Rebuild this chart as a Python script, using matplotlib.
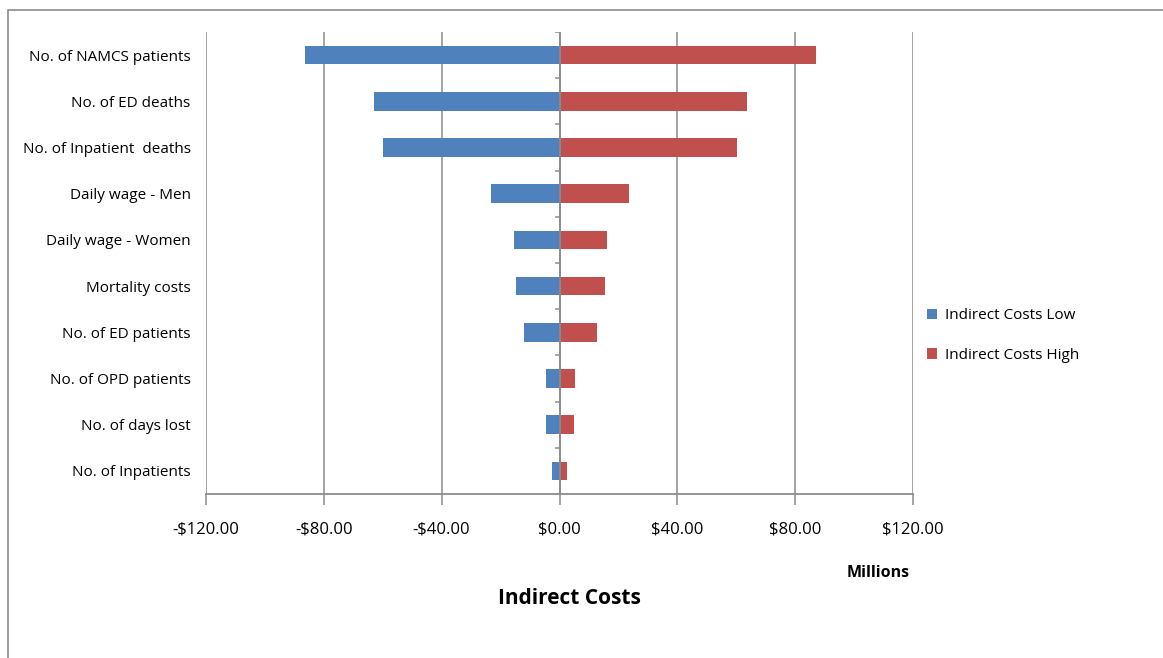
import matplotlib
matplotlib.use("Agg")
import matplotlib.pyplot as plt
from matplotlib.patches import Rectangle

plt.rcParams['font.family'] = ['Open Sans', 'DejaVu Sans']

# Sensitivity of indirect costs (millions of dollars)
factors = ["No. of NAMCS patients", "No. of ED deaths", "No. of Inpatient  deaths",
           "Daily wage - Men", "Daily wage - Women", "Mortality costs",
           "No. of ED patients", "No. of OPD patients", "No. of days lost",
           "No. of Inpatients"]
low = [-86.5, -63.0, -60.0, -23.3, -15.5, -14.8, -11.9, -4.7, -4.7, -2.4]
high = [87.2, 63.6, 60.4, 23.7, 16.0, 15.3, 12.6, 5.1, 4.8, 2.6]
xticks = [-120, -80, -40, 0, 40, 80, 120]

blue = "#4F81BD"
red = "#C0504D"
grid = "#8C8C8C"

fig = plt.figure(figsize=(11.63, 6.58), dpi=100)
ax = fig.add_axes([206 / 1163, 1 - 494 / 658, 707 / 1163, 462 / 658])

pos = list(range(len(factors)))
ax.barh(pos, low, height=0.4, color=blue, label="Indirect Costs Low", zorder=3)
ax.barh(pos, high, height=0.4, color=red, label="Indirect Costs High", zorder=3)

ax.set_xlim(-120, 120)
ax.set_ylim(len(factors) - 0.5, -0.5)

# vertical gridlines and zero axis with small category ticks
for x in xticks:
    ax.axvline(x, color=grid, lw=1.1, zorder=1)
ax.axvline(0, color=grid, lw=1.3, zorder=4)
bounds = [p - 0.5 for p in pos] + [pos[-1] + 0.5]
ax.hlines(bounds, -1.4, 0, color=grid, lw=1.1, zorder=4)

for s in ["top", "right", "left"]:
    ax.spines[s].set_visible(False)
ax.spines["bottom"].set_color(grid)
ax.spines["bottom"].set_linewidth(1.3)

ax.set_xticks(xticks)
ax.set_xticklabels([("-$%d.00" % -v if v < 0 else "$%d.00" % v) for v in xticks],
                   fontsize=12)
ax.tick_params(axis="x", length=8, width=1.1, color=grid, pad=12)
ax.set_yticks(pos)
ax.set_yticklabels(factors, fontsize=11)
ax.tick_params(axis="y", length=0, pad=11)

ax.legend(loc="center left", bbox_to_anchor=(1.0, 0.343), frameon=False,
          fontsize=11, handlelength=0.7, handleheight=0.7, handletextpad=0.5,
          labelspacing=1.6)

fig.text(878 / 1163, 1 - 573 / 658, "Millions", fontsize=11.5, fontweight="bold",
         ha="center", va="center")
fig.text(569 / 1163, 1 - 598 / 658, "Indirect Costs", fontsize=15, fontweight="bold",
         ha="center", va="center")

# chart border
fig.patches.append(Rectangle((8 / 1163, -0.05), 1.2, 1 - 10 / 658 + 0.05,
                             transform=fig.transFigure, fill=False,
                             edgecolor="#8C8C8C", lw=1.2))

fig.savefig("out.png", dpi=100)
